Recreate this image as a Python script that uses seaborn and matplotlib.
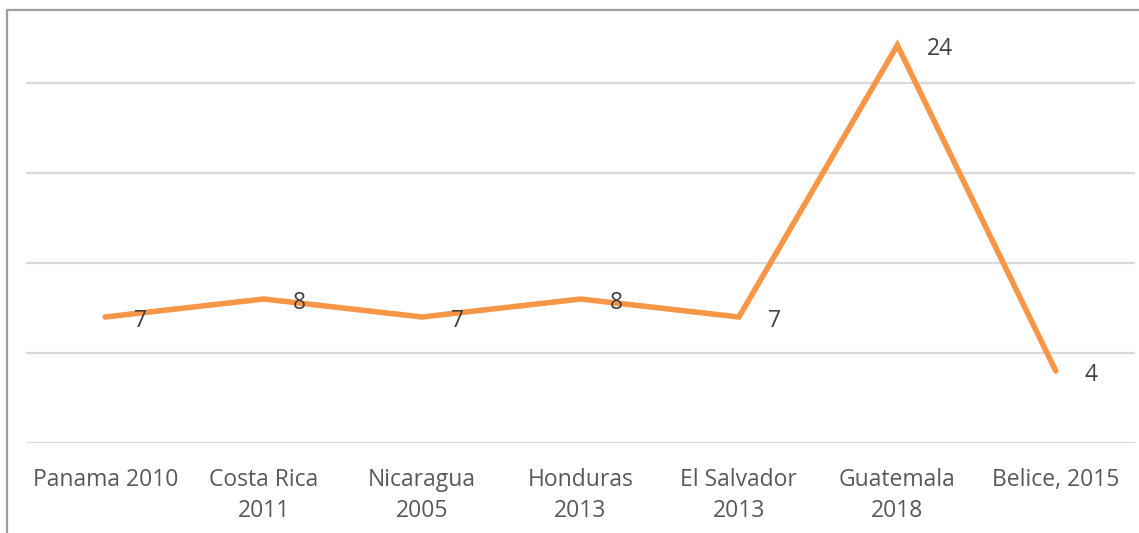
import matplotlib
matplotlib.use("Agg")
import matplotlib.pyplot as plt
from matplotlib.lines import Line2D
import seaborn as sns
import pandas as pd

categories = ["Panama 2010", "Costa Rica\n2011", "Nicaragua\n2005", "Honduras\n2013",
              "El Salvador\n2013", "Guatemala\n2018", "Belice, 2015"]
values = [7, 8, 7, 8, 7, 22.1, 4]
value_labels = ["7", "8", "7", "8", "7", "24", "4"]

sns.set_style("white")
plt.rcParams['font.family'] = ['Open Sans', 'DejaVu Sans']

W, H = 1139, 533
fig = plt.figure(figsize=(W / 100, H / 100), dpi=100)
ax = fig.add_axes([26 / W, 1 - 443 / H, (1135 - 26) / W, (443 - 11) / H])

df = pd.DataFrame({"cat": categories, "val": values})
df["x"] = range(len(categories))
sns.lineplot(data=df, x="x", y="val", ax=ax, color="#F79646", linewidth=4.0,
             solid_capstyle="round", solid_joinstyle="miter")

ax.set_xlim(-0.5, len(categories) - 0.5)
ax.set_ylim(0, 24)
ax.set_yticks([0, 5, 10, 15, 20])
ax.yaxis.grid(True, color="#D9D9D9", linewidth=1.6)
ax.set_axisbelow(True)
ax.set_yticklabels([])
ax.tick_params(axis="y", length=0)
ax.set_xticks(range(len(categories)))
ax.set_xticklabels(categories, fontsize=16.5, color="#595959", linespacing=1.4)
ax.tick_params(axis="x", length=0, pad=18)
ax.set_xlabel("")
ax.set_ylabel("")
for s in ax.spines.values():
    s.set_visible(False)

for i, (v, lab) in enumerate(zip(values, value_labels)):
    ax.annotate(lab, (i, v), xytext=(21, -3), textcoords="offset points",
                ha="left", va="center", fontsize=16.5, color="#404040")

# outer chart border (grey) at left and top
fig.add_artist(Line2D([7 / W, 7 / W], [0, 1 - 10 / H], transform=fig.transFigure,
                      color="#A0A0A0", linewidth=1.6))
fig.add_artist(Line2D([7 / W, 1], [1 - 10 / H, 1 - 10 / H], transform=fig.transFigure,
                      color="#A0A0A0", linewidth=1.6))

fig.savefig("out.png", dpi=100)
